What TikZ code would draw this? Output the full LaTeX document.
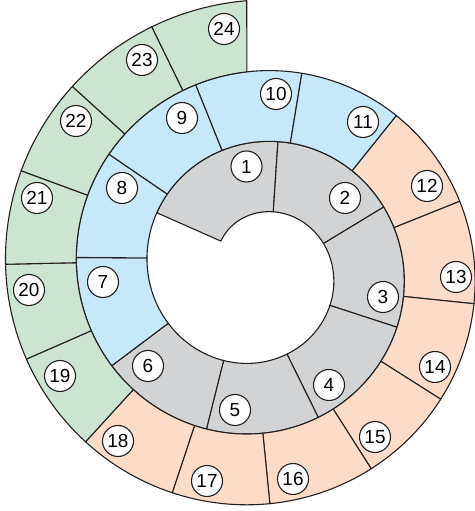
\documentclass[tikz,border=0pt]{standalone}
\usepackage{fontspec}
\setmainfont{Liberation Sans}
\definecolor{sgrey}{HTML}{D1D3D4}
\definecolor{sblue}{HTML}{C7E8F8}
\definecolor{sorange}{HTML}{FCDCC8}
\definecolor{sgreen}{HTML}{CCE5D3}
\definecolor{sline}{HTML}{231F20}
\tikzset{
  every picture/.style={x=1bp, y=1bp, line width=1.1pt},
  seg/.style={draw=sline, fill=#1, line join=round},
  num/.style={circle, draw=sline, fill=white, minimum size=31bp, inner sep=0pt, font=\fontsize{19}{19}\selectfont},
}
% spiral: inner radius = \sprA + \sprK * phi, phi clockwise from \sprT
\newcommand{\sprA}{47}
\newcommand{\sprK}{0.197}
\newcommand{\sprW}{70.9}
\newcommand{\sprT}{142.1}

\begin{document}
\begin{tikzpicture}
  \useasboundingbox (0,0) rectangle (475,511);
  % segments
  \begin{scope}[shift={(258,241)}]
  \foreach \i/\pa/\pb/\col in {1/0/66.8/sgrey, 2/66.8/120.1/sgrey, 3/120.1/168.3/sgrey,
      4/168.3/213.1/sgrey, 5/213.1/252.9/sgrey, 6/252.9/291.4/sgrey,
      7/291.4/328.3/sblue, 8/328.3/362/sblue, 9/362/395.4/sblue, 10/395.4/426.4/sblue, 11/426.4/455.6/sblue,
      12/455.6/484.8/sorange, 13/484.8/512.4/sorange, 14/512.4/538.7/sorange, 15/538.7/563.7/sorange,
      16/563.7/590.4/sorange, 17/590.4/614.3/sorange, 18/614.3/638.3/sorange,
      19/638.3/662.1/sgreen, 20/662.1/684.4/sgreen, 21/684.4/705.8/sgreen, 22/705.8/727.7/sgreen,
      23/727.7/749.4/sgreen, 24/749.4/768.9/sgreen}{
    \pgfmathsetmacro{\qa}{\pa + asin(11.28/(\sprA+\sprK*\pa+\sprW)) - asin(11.28/(\sprA+\sprK*\pa))}
    \pgfmathsetmacro{\qb}{\pb + asin(11.28/(\sprA+\sprK*\pb+\sprW)) - asin(11.28/(\sprA+\sprK*\pb))}
    \ifnum\i=24 \pgfmathsetmacro{\qb}{\pb+0.8}\fi
    \draw[seg=\col] plot[domain=\pa:\pb, samples=30, variable=\t] ({\sprT-\t}:{\sprA+\sprK*\t})
      -- plot[domain=\qb:\qa, samples=30, variable=\t] ({\sprT-\t}:{\sprA+\sprK*\t+\sprW}) -- cycle;
  }
  \end{scope}
  % numbers
  \foreach \i/\x/\y in {1/246.5/344.5, 2/345/313, 3/383/214, 4/329/126, 5/235/101, 6/148/145,
      7/103/229, 8/122/323, 9/182/393, 10/276/417, 11/363/389, 12/427/325,
      13/456/234, 14/435/144, 15/375/74, 16/293/32, 17/207/30, 18/118/70,
      19/60/135, 20/29/221, 21/37/313, 22/76/390, 23/142/451, 24/224/482}
    \node[num] (n\i) at (\x,\y) {\i};
\end{tikzpicture}
\end{document}
